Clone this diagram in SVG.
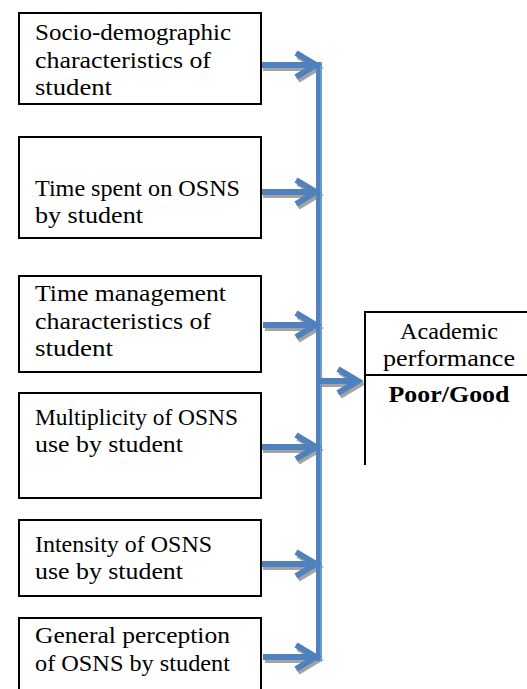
<svg xmlns="http://www.w3.org/2000/svg" xmlns:xlink="http://www.w3.org/1999/xlink" width="527" height="689" viewBox="0 0 527 689">
  <style>
    .box { fill: #fff; stroke: #000; stroke-width: 2; }
    .edge { fill: none; stroke: #000; stroke-width: 2; }
    .lbl { font-family: "Liberation Serif", "DejaVu Serif", serif; font-size: 23px; fill: #000; }
    .mid { text-anchor: middle; }
    .bold { font-weight: bold; }
    .flow { fill: none; stroke-width: 6; stroke-linejoin: miter; stroke-linecap: butt; }
  </style>
  <defs>
    <!-- horizontal shafts with chevron heads, plus the vertical collector -->
    <path id="arrowSet" d="
      M261 65 H316 M296 53 L316 65 L296 77
      M261 192 H316 M296 180 L316 192 L296 204
      M263 325 H316 M296 313 L316 325 L296 337
      M261 447 H316 M296 435 L316 447 L296 459
      M261 564 H316 M296 552 L316 564 L296 576
      M263 657 H316 M296 645 L316 657 L296 669
      M319 381 H358 M338 369 L358 381 L338 393"/>
  </defs>

  <!-- bare white page -->
  <rect x="0" y="0" width="527" height="689" fill="#fff"/>

  <g id="connectors">
    <use xlink:href="#arrowSet" class="flow" stroke="#a3a3a3" transform="translate(2,3)"/>
    <line x1="319" y1="62" x2="319" y2="661" stroke="#4f81bd" stroke-width="6"/>
    <line x1="321" y1="62" x2="321" y2="661" stroke="#7aa0d0" stroke-width="1.5"/>
    <use xlink:href="#arrowSet" class="flow" stroke="#4f81bd"/>
  </g>

  <g id="socio">
    <rect class="box" x="19" y="13" width="242" height="91"/>
    <text class="lbl" x="35" y="40" textLength="196" lengthAdjust="spacingAndGlyphs">Socio-demographic</text>
    <text class="lbl" x="35" y="68" textLength="176" lengthAdjust="spacingAndGlyphs">characteristics of</text>
    <text class="lbl" x="35" y="95" textLength="77" lengthAdjust="spacingAndGlyphs">student</text>
  </g>

  <g id="timeSpent">
    <rect class="box" x="19" y="137" width="242" height="101"/>
    <text class="lbl" x="35" y="196" textLength="205" lengthAdjust="spacingAndGlyphs">Time spent on OSNS</text>
    <text class="lbl" x="35" y="223" textLength="108" lengthAdjust="spacingAndGlyphs">by student</text>
  </g>

  <g id="timeMgmt">
    <rect class="box" x="19" y="276" width="242" height="96"/>
    <text class="lbl" x="35" y="301" textLength="191" lengthAdjust="spacingAndGlyphs">Time management</text>
    <text class="lbl" x="35" y="329" textLength="176" lengthAdjust="spacingAndGlyphs">characteristics of</text>
    <text class="lbl" x="35" y="356" textLength="78" lengthAdjust="spacingAndGlyphs">student</text>
  </g>

  <g id="multiplicity">
    <rect class="box" x="19" y="393" width="242" height="105"/>
    <text class="lbl" x="35" y="425" textLength="203" lengthAdjust="spacingAndGlyphs">Multiplicity of OSNS</text>
    <text class="lbl" x="35" y="452" textLength="148" lengthAdjust="spacingAndGlyphs">use by student</text>
  </g>

  <g id="intensity">
    <rect class="box" x="19" y="520" width="242" height="76"/>
    <text class="lbl" x="35" y="552" textLength="177" lengthAdjust="spacingAndGlyphs">Intensity of OSNS</text>
    <text class="lbl" x="35" y="579" textLength="148" lengthAdjust="spacingAndGlyphs">use by student</text>
  </g>

  <g id="perception">
    <rect class="box" x="19" y="618" width="242" height="90"/>
    <text class="lbl" x="35" y="643" textLength="195" lengthAdjust="spacingAndGlyphs">General perception</text>
    <text class="lbl" x="35" y="671" textLength="195" lengthAdjust="spacingAndGlyphs">of OSNS by student</text>
  </g>

  <g id="academic">
    <path class="edge" d="M365 465 V312 H528 M365 375 H528"/>
    <text class="lbl mid" x="449" y="339" textLength="98" lengthAdjust="spacingAndGlyphs">Academic</text>
    <text class="lbl mid" x="449" y="366" textLength="132" lengthAdjust="spacingAndGlyphs">performance</text>
    <text class="lbl mid bold" x="449" y="402" textLength="121" lengthAdjust="spacingAndGlyphs">Poor/Good</text>
  </g>
</svg>
